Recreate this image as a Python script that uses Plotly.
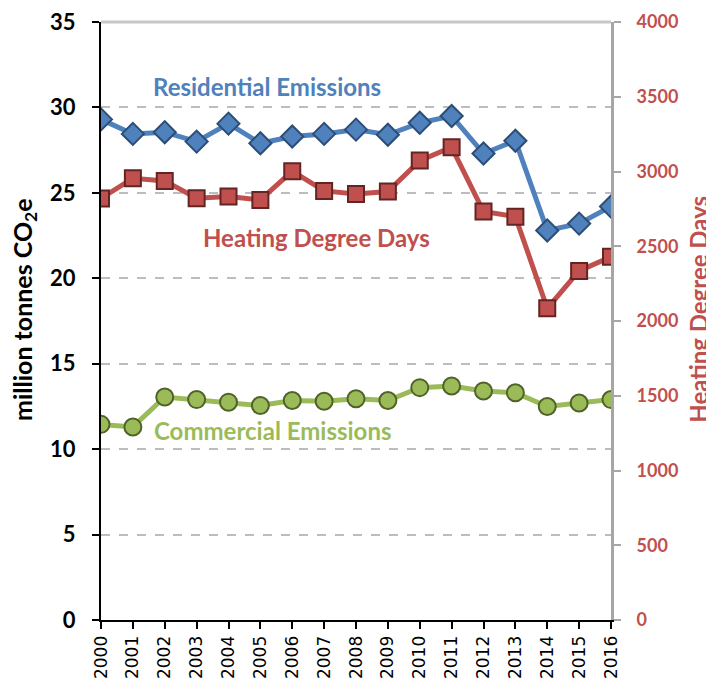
import plotly.graph_objects as go

years = [str(y) for y in range(2000, 2017)]
residential = [29.3, 28.45, 28.55, 28.0, 29.05, 27.9, 28.3, 28.45, 28.7, 28.4,
               29.1, 29.5, 27.3, 28.05, 22.8, 23.2, 24.2]
commercial = [11.45, 11.3, 13.05, 12.9, 12.75, 12.55, 12.85, 12.8, 12.95, 12.85,
              13.6, 13.7, 13.4, 13.3, 12.5, 12.7, 12.9]
hdd = [2820, 2955, 2937, 2821, 2832, 2810, 3002, 2870, 2850, 2866,
       3073, 3162, 2732, 2698, 2085, 2335, 2430]

left_ticks = [0, 5, 10, 15, 20, 25, 30, 35]
right_ticks = [0, 500, 1000, 1500, 2000, 2500, 3000, 3500, 4000]

BLUE = '#4f81bd'
RED = '#c0504d'
GREEN = '#9bbb59'

fig = go.Figure()
fig.add_trace(go.Scatter(
    x=years, y=residential, mode='lines+markers', name='Residential Emissions',
    line=dict(color=BLUE, width=5),
    marker=dict(symbol='diamond', size=17, color=BLUE, line=dict(color='#2c4d75', width=2))
))
fig.add_trace(go.Scatter(
    x=years, y=commercial, mode='lines+markers', name='Commercial Emissions',
    line=dict(color=GREEN, width=5),
    marker=dict(symbol='circle', size=17, color=GREEN, line=dict(color='#4f6228', width=2))
))
fig.add_trace(go.Scatter(
    x=years, y=hdd, mode='lines+markers', name='Heating Degree Days', yaxis='y2',
    line=dict(color=RED, width=5),
    marker=dict(symbol='square', size=16, color=RED, line=dict(color='#632523', width=2))
))

# series labels inside the plot
label_font = dict(family='Lato', size=24, color=BLUE, weight='bold')
fig.add_annotation(x=0.3255, y=31.25, xref='paper', yref='y', xanchor='center',
                   text='Residential Emissions', showarrow=False, font=label_font)
fig.add_annotation(x=0.4235, y=22.36, xref='paper', yref='y', xanchor='center',
                   text='Heating Degree Days', showarrow=False, font=dict(label_font, color=RED))
fig.add_annotation(x=0.337, y=11.12, xref='paper', yref='y', xanchor='center',
                   text='Commercial Emissions', showarrow=False, font=dict(label_font, color=GREEN))

# axis titles
fig.add_annotation(x=-0.151, y=0.52, xref='paper', yref='paper', textangle=-90,
                   xanchor='center', yanchor='middle', showarrow=False,
                   text='million tonnes CO<sub>2</sub>e',
                   font=dict(family='Lato', size=25, color='black', weight='bold'))
fig.add_annotation(x=1.17, y=0.52, xref='paper', yref='paper', textangle=-90,
                   xanchor='center', yanchor='middle', showarrow=False,
                   text='Heating Degree Days',
                   font=dict(family='Lato', size=24, color=RED, weight='bold'))

# grey top edge of plot area
fig.add_shape(type='line', xref='paper', yref='paper', x0=0, x1=1, y0=1, y1=1,
              line=dict(color='#c8c8c8', width=3))

fig.update_layout(
    width=706,
    height=678,
    paper_bgcolor='white',
    plot_bgcolor='white',
    showlegend=False,
    margin=dict(l=93, r=103, t=14, b=66),
    xaxis=dict(
        type='category', range=[0, 16], automargin=False, ticklabeloverflow='allow',
        showline=True, linecolor='black', linewidth=2,
        ticks='outside', ticklen=7, tickcolor='black', tickwidth=2,
        tickangle=-90, showgrid=False, ticklabelstandoff=0,
        tickfont=dict(family='DejaVu Sans', size=17, color='black')
    ),
    yaxis=dict(
        range=[0, 35], tickvals=left_ticks, automargin=False, ticklabeloverflow='allow',
        showline=True, linecolor='black', linewidth=2,
        ticks='outside', ticklen=7, tickcolor='black', tickwidth=2,
        showgrid=True, gridcolor='#bdbdbd', griddash='dash', gridwidth=1.5,
        zeroline=False, ticklabelstandoff=12,
        tickfont=dict(family='Lato', size=22, color='black', weight='bold')
    ),
    yaxis2=dict(
        range=[0, 4000], tickvals=right_ticks, overlaying='y', side='right',
        automargin=False, ticklabeloverflow='allow',
        showline=True, linecolor='#a6a6a6', linewidth=3,
        ticks='outside', ticklen=7, tickcolor='#a6a6a6', tickwidth=2,
        showgrid=False, zeroline=False, ticklabelstandoff=12,
        tickfont=dict(family='Lato', size=18, color=RED, weight='bold')
    )
)

fig.write_html("out.html")
